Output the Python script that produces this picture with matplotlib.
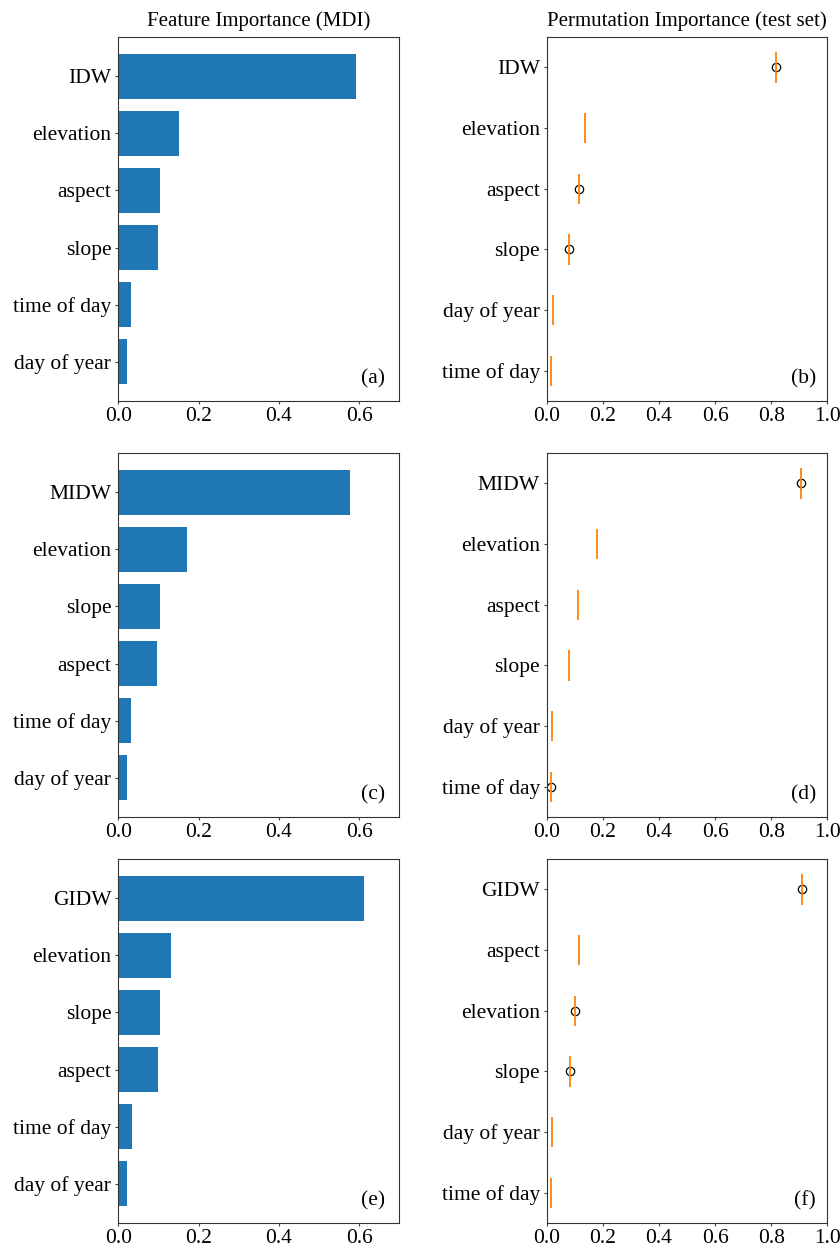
import matplotlib
matplotlib.use("Agg")
import matplotlib.pyplot as plt

plt.rcParams['font.family'] = ['Liberation Serif', 'DejaVu Serif']
plt.rcParams['font.size'] = 15.5
plt.rcParams['xtick.major.size'] = 2.5
plt.rcParams['ytick.major.size'] = 2.5
plt.rcParams['xtick.major.pad'] = 2
plt.rcParams['ytick.major.pad'] = 2.5
plt.rcParams['axes.edgecolor'] = '#333333'
plt.rcParams['xtick.color'] = '#444444'
plt.rcParams['ytick.color'] = '#444444'
plt.rcParams['xtick.labelcolor'] = 'black'
plt.rcParams['ytick.labelcolor'] = 'black'

# ---- MDI (bottom to top) ----
mdi_labels_a = ["day of year", "time of day", "slope", "aspect", "elevation", "IDW"]
mdi_values_a = [0.022, 0.032, 0.099, 0.104, 0.151, 0.591]
mdi_labels_c = ["day of year", "time of day", "aspect", "slope", "elevation", "MIDW"]
mdi_values_c = [0.022, 0.032, 0.096, 0.104, 0.171, 0.577]
mdi_labels_e = ["day of year", "time of day", "aspect", "slope", "elevation", "GIDW"]
mdi_values_e = [0.022, 0.035, 0.099, 0.104, 0.132, 0.612]

# ---- Permutation importance medians (bottom to top) and fliers ----
perm_labels_b = ["time of day", "day of year", "slope", "aspect", "elevation", "IDW"]
perm_med_b = [0.017, 0.021, 0.079, 0.116, 0.136, 0.816]
perm_fliers_b = [[], [], [0.079], [0.116], [], [0.816]]
perm_labels_d = ["time of day", "day of year", "slope", "aspect", "elevation", "MIDW"]
perm_med_d = [0.015, 0.018, 0.078, 0.110, 0.178, 0.905]
perm_fliers_d = [[0.017], [], [], [], [], [0.905]]
perm_labels_f = ["time of day", "day of year", "slope", "elevation", "aspect", "GIDW"]
perm_med_f = [0.015, 0.018, 0.083, 0.100, 0.114, 0.909]
perm_fliers_f = [[], [], [0.083], [0.100], [], [0.909]]
spread = 0.0015

fig = plt.figure(figsize=(8.4, 12.5), dpi=100)
W, H = 840, 1250
rows_top = [37, 453, 859]
ax_h = 364
left_x = (118.3, 399.3)
right_x = (546.7, 827.3)

mdi_sets = [(mdi_labels_a, mdi_values_a, "(a)"),
            (mdi_labels_c, mdi_values_c, "(c)"),
            (mdi_labels_e, mdi_values_e, "(e)")]
perm_sets = [(perm_labels_b, perm_med_b, perm_fliers_b, "(b)"),
             (perm_labels_d, perm_med_d, perm_fliers_d, "(d)"),
             (perm_labels_f, perm_med_f, perm_fliers_f, "(f)")]

for i, top in enumerate(rows_top):
    bottom = (H - top - ax_h) / H
    axl = fig.add_axes([left_x[0] / W, bottom, (left_x[1] - left_x[0]) / W, ax_h / H])
    labels, vals, tag = mdi_sets[i]
    pos = list(range(len(vals)))
    axl.barh(pos, vals, height=0.8, color="#1f77b4")
    axl.set_yticks(pos)
    axl.set_yticklabels(labels)
    axl.set_xlim(0, 0.7)
    axl.set_xticks([0.0, 0.2, 0.4, 0.6])
    axl.set_xticklabels(["0.0", "0.2", "0.4", "0.6"])
    axl.text(0.95, 0.06, tag, transform=axl.transAxes, ha="right", va="center")
    if i == 0:
        axl.set_title("Feature Importance (MDI)", pad=8, fontsize=15)

    axr = fig.add_axes([right_x[0] / W, bottom, (right_x[1] - right_x[0]) / W, ax_h / H])
    plabels, meds, fliers, ptag = perm_sets[i]
    stats = []
    for lab, m, f in zip(plabels, meds, fliers):
        stats.append(dict(label=lab, med=m, q1=m - spread, q3=m + spread,
                          whislo=m - spread, whishi=m + spread, fliers=f))
    axr.bxp(stats, orientation="horizontal", widths=0.5,
            flierprops=dict(marker="o", markerfacecolor="none",
                            markeredgecolor="black", markersize=6, markeredgewidth=0.9),
            medianprops=dict(color="#ff7f0e", linewidth=1.3),
            boxprops=dict(color="black", linewidth=0),
            whiskerprops=dict(color="black", linewidth=0),
            capprops=dict(linewidth=0))
    axr.set_xlim(0, 1.0)
    axr.set_xticks([0.0, 0.2, 0.4, 0.6, 0.8, 1.0])
    axr.set_xticklabels(["0.0", "0.2", "0.4", "0.6", "0.8", "1.0"])
    axr.text(0.96, 0.06, ptag, transform=axr.transAxes, ha="right", va="center")
    if i == 0:
        axr.set_title("Permutation Importance (test set)", pad=8, fontsize=15)

fig.savefig("out.png", dpi=100)
